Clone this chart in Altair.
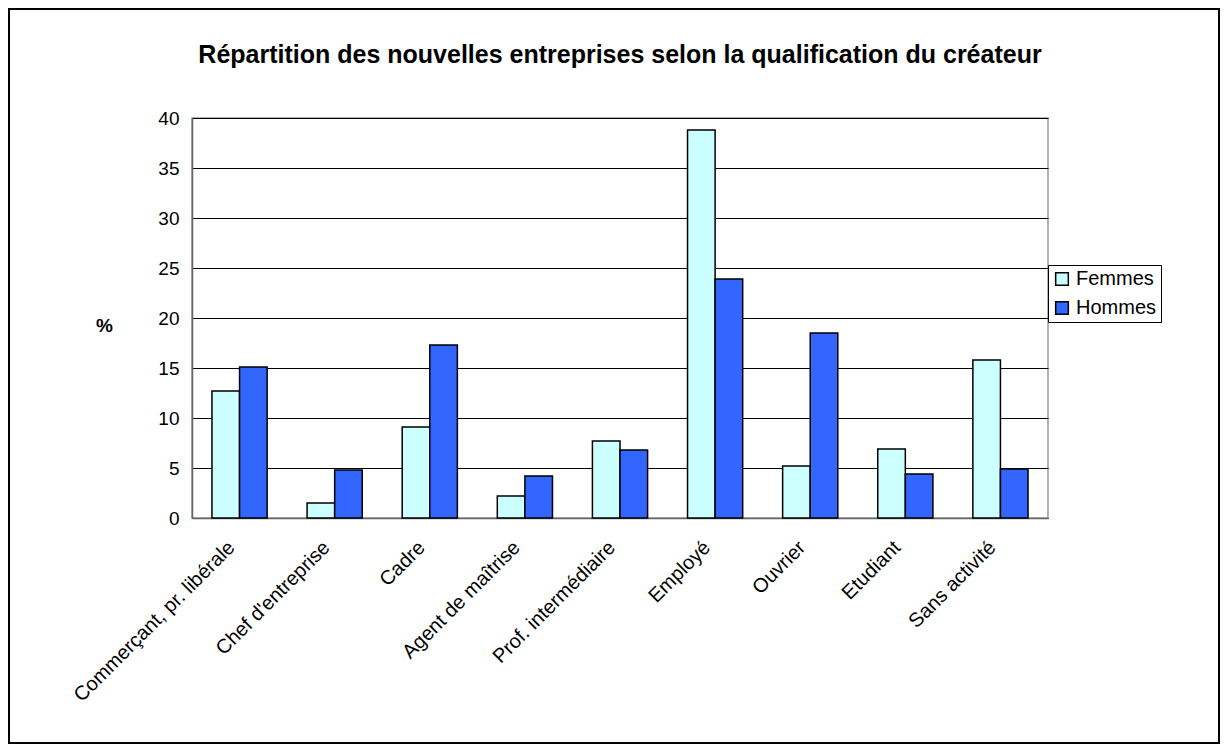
import altair as alt
import pandas as pd

categories = ["Commerçant, pr. libérale", "Chef d'entreprise", "Cadre", "Agent de maîtrise",
              "Prof. intermédiaire", "Employé", "Ouvrier", "Etudiant", "Sans activité"]
femmes = [12.7, 1.5, 9.1, 2.2, 7.7, 38.8, 5.2, 6.9, 15.8]
hommes = [15.1, 4.8, 17.3, 4.2, 6.8, 23.9, 18.5, 4.4, 4.9]
series = ["Femmes", "Hommes"]
colors = ["#CCFFFF", "#3366FF"]
y_ticks = [0, 5, 10, 15, 20, 25, 30, 35, 40]

rows = []
for c, f, h in zip(categories, femmes, hommes):
    rows.append({"cat": c, "serie": "Femmes", "val": f})
    rows.append({"cat": c, "serie": "Hommes", "val": h})
df = pd.DataFrame(rows)

W, H = 856, 400
FONT = "Liberation Sans"

bars = alt.Chart(df).mark_bar(stroke="black", strokeWidth=1.5).encode(
    x=alt.X("cat:N", sort=categories,
            scale=alt.Scale(paddingInner=0.42, paddingOuter=0.21),
            axis=alt.Axis(title=None, labelAngle=-45, labelFontSize=20, labelColor="black",
                          labelFont=FONT, ticks=False, domainColor="#666", domainWidth=1.5,
                          labelPadding=19, labelOffset=-15, labelLimit=400)),
    xOffset=alt.XOffset("serie:N", sort=series, scale=alt.Scale(paddingInner=0, paddingOuter=0)),
    y=alt.Y("val:Q", scale=alt.Scale(domain=[0, 40]),
            axis=alt.Axis(values=y_ticks, title="%", titleAngle=0, titleFontWeight="bold",
                          titleFontSize=19, titleFont=FONT, titleX=-88, titleY=207,
                          titleAlign="center", titleBaseline="middle",
                          labelFontSize=19, labelFont=FONT, labelColor="black", labelPadding=13,
                          ticks=False, domainColor="#666", domainWidth=1.5,
                          gridColor="black", gridWidth=1)),
    color=alt.Color("serie:N", scale=alt.Scale(domain=series, range=colors),
                    legend=alt.Legend(title=None, orient="none", legendX=856, legendY=147,
                                      strokeColor="black", fillColor="white", padding=4,
                                      labelFontSize=20, labelFont=FONT, labelColor="black",
                                      symbolType="square", symbolSize=160,
                                      symbolStrokeColor="black", symbolStrokeWidth=1.5,
                                      rowPadding=9, labelOffset=4)),
)

frame = alt.Chart(alt.Data(values=[{"a": 1}])).mark_rect(
    filled=False, stroke="black", strokeWidth=2
).encode(
    x=alt.value(-183), x2=alt.value(1027), y=alt.value(-109), y2=alt.value(625)
)

chart = alt.layer(bars, frame).properties(
    width=W, height=H,
    title=alt.TitleParams("Répartition des nouvelles entreprises  selon la qualification du créateur",
                          fontSize=25, fontWeight="bold", font=FONT, offset=-60, anchor="middle",
                          color="black"),
    padding={"left": 184, "top": 110, "right": 172, "bottom": 226},
    autosize=alt.AutoSizeParams(type="none"),
).configure_view(stroke="#999", strokeWidth=1.5)

chart.save("out.html", embed_options={"renderer": "svg", "actions": False})
